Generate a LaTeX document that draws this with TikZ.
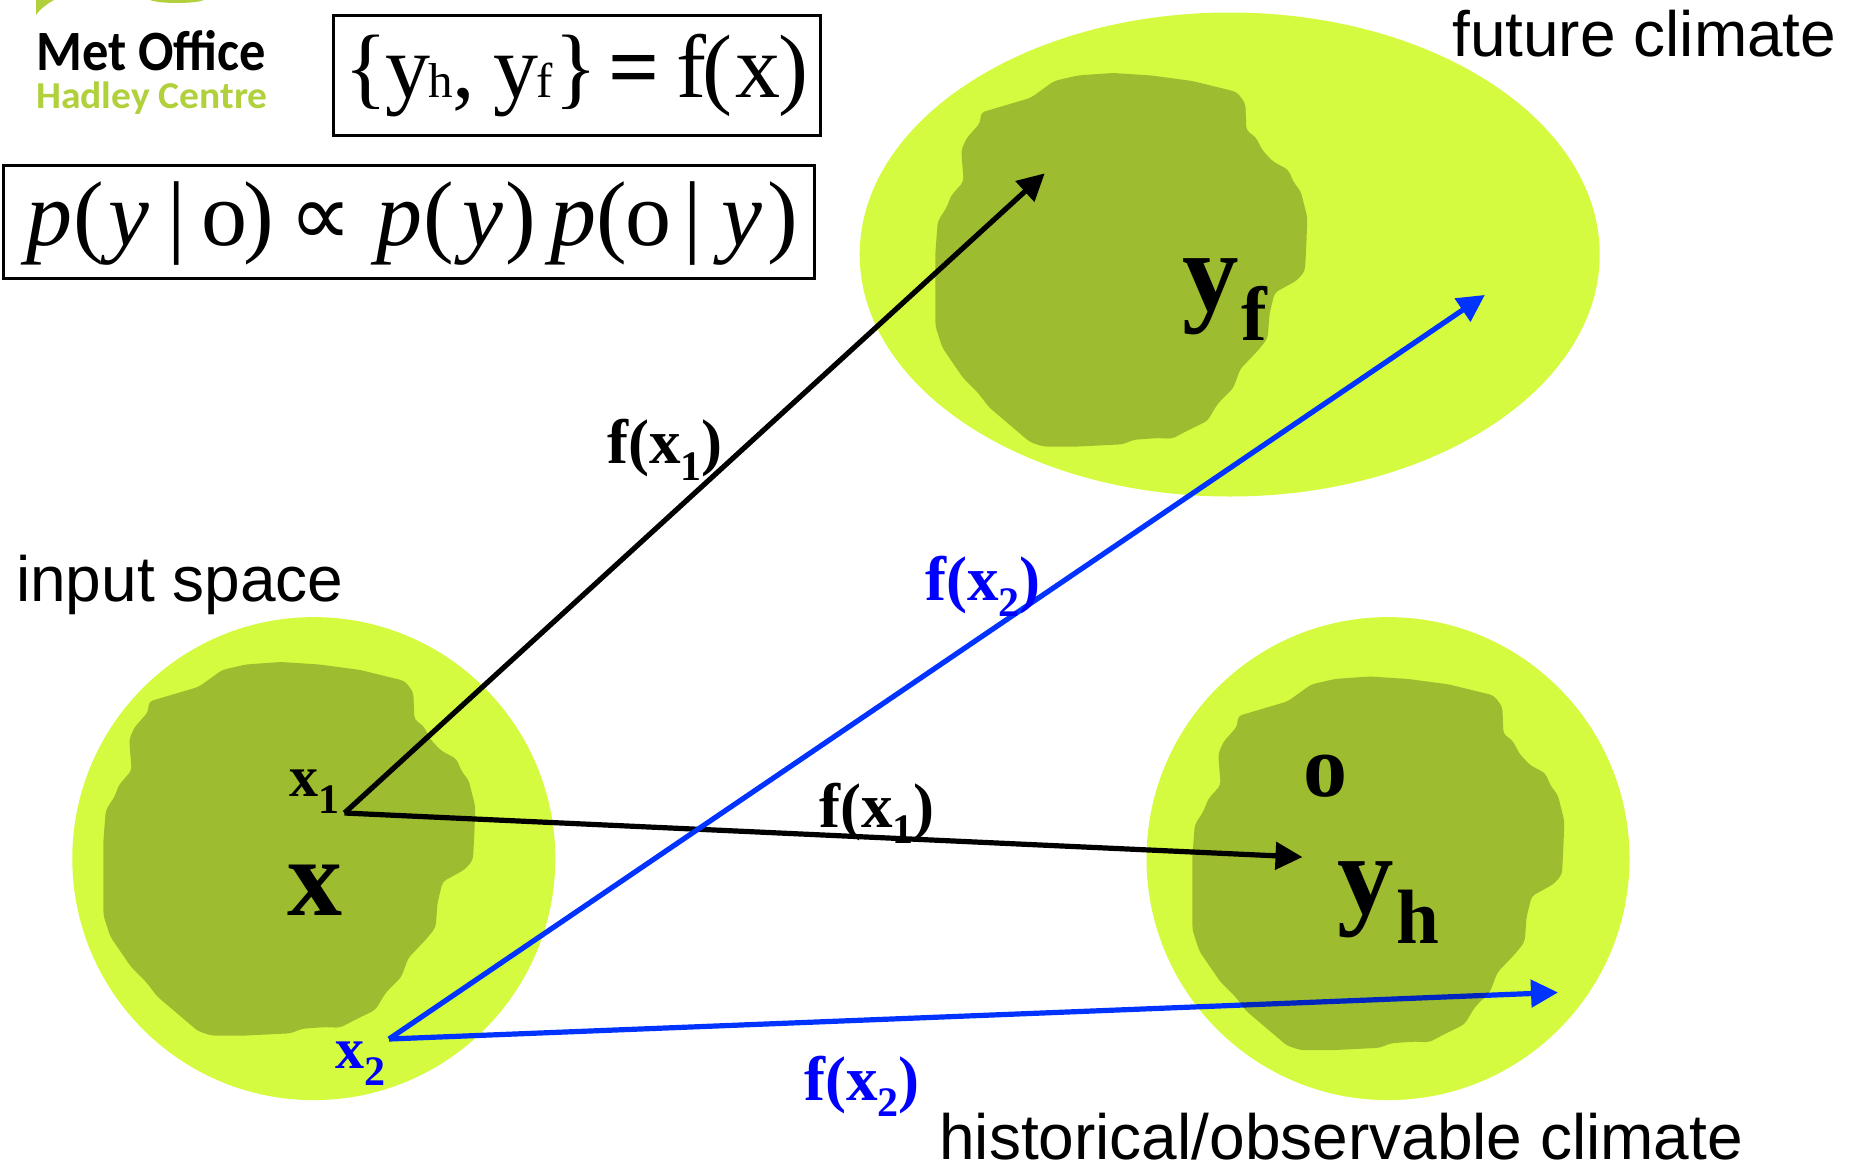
\documentclass[tikz,border=0pt]{standalone}
\usepackage{fontspec}
\usetikzlibrary{arrows.meta,positioning,calc}
\setmainfont{Liberation Serif}
\setsansfont{Liberation Sans}
\newfontfamily\logofont{Carlito}
\newfontfamily\symbfont{DejaVu Sans}
\definecolor{regionLime}{RGB}{212,251,64}
\definecolor{hadleyGreen}{RGB}{176,208,60}
\definecolor{lineBlue}{RGB}{0,51,255}
\definecolor{textBlue}{RGB}{0,0,255}
% sized label with a dropped index
\newcommand{\dropidx}[5]{\fontsize{#1}{#1}\selectfont #3\raisebox{-#5}{\fontsize{#2}{#2}\selectfont #4}}
\newcommand{\fval}[1]{\fontsize{63pt}{63pt}\selectfont f(x\raisebox{-16.5pt}{\fontsize{42pt}{42pt}\selectfont #1})}

\begin{document}
\begin{tikzpicture}[
  x=1pt, y=-1pt,
  region/.style={fill=regionLime, draw=none},
  blob/.style={fill=black, fill opacity=0.25, draw=none, rounded corners=4pt},
  maparrow/.style={line width=5.2pt, -{Triangle[length=27pt,width=27pt]}, shorten >=-1pt},
  capt/.style={font=\sffamily\fontsize{64pt}{64pt}\selectfont, anchor=base west, inner sep=0pt},
  lbl/.style={font=\bfseries, anchor=base west, inner sep=0pt},
  eqbox/.style={draw=black, line width=3pt, anchor=north west, inner sep=0pt, outer sep=0pt},
]
\useasboundingbox (0,0) rectangle (1859,1165);

\def\blobpath{(287,295) -- (432,252) -- (500,203) -- (570,187) -- (670,180) -- (780,187) -- (900,203)
  -- (1030,235) -- (1055,268) -- (1058,347) -- (1085,366) -- (1105,405) -- (1135,437) -- (1180,461)
  -- (1195,497) -- (1216,524) -- (1235,600) -- (1232,680) -- (1228,755) -- (1205,782) -- (1140,818)
  -- (1125,880) -- (1120,950) -- (1095,982) -- (1040,1040) -- (1020,1095) -- (975,1140) -- (945,1190)
  -- (880,1222) -- (842,1242) -- (800,1240) -- (730,1245) -- (700,1258) -- (560,1265) -- (470,1265)
  -- (430,1252) -- (310,1150) -- (280,1110) -- (235,1065) -- (175,977) -- (155,915) -- (155,700)
  -- (162,610) -- (188,570) -- (200,537) -- (237,495) -- (230,405) -- (245,370) -- (285,325) -- cycle}

% ---------- regions ----------
\fill[region] (313.8,858.6) circle (241.5);
\fill[region] (1388,858.6) circle (241.5);
\fill[region] (1229.7,254.5) ellipse (370 and 242);

% ---------- mappings ----------
\coordinate (xone) at (344.5,813);
\coordinate (xtwo) at (389,1039);
\coordinate (yfblack) at (1044,174);
\coordinate (yfblue) at (1484,295.5);
\coordinate (yhblack) at (1301.5,857);
\coordinate (yhblue) at (1557,992.5);
\draw[maparrow] (xone) -- (yfblack);
\draw[maparrow] (xone) -- (yhblack);
\draw[maparrow, lineBlue] (xtwo) -- (yfblue);
\draw[maparrow, lineBlue] (xtwo) -- (yhblue);

% ---------- likely parts ----------
\begin{scope}[shift={(50,600)}, x=0.3444pt, y=-0.3444pt]
  \fill[blob] \blobpath;
\end{scope}
\begin{scope}[shift={(1139,614.5)}, x=0.3444pt, y=-0.3444pt]
  \fill[blob] \blobpath;
\end{scope}
\begin{scope}[shift={(882,11)}, x=0.3444pt, y=-0.3444pt]
  \fill[blob] \blobpath;
\end{scope}

% ---------- symbols ----------
\node[lbl] (xbig) at (287,915) {\fontsize{110pt}{110pt}\selectfont x};
\node[lbl] (xonelbl) at (289,796) {\dropidx{58pt}{42pt}{x}{1}{17pt}};
\node[lbl, textBlue] (xtwolbl) at (335,1068) {\dropidx{58pt}{42pt}{x}{2}{17pt}};
\node[lbl] (yf) at (1182,310) {\dropidx{113pt}{77pt}{y\kern3pt}{f}{30pt}};
\node[lbl] (yh) at (1337,913) {\dropidx{113pt}{77pt}{y\kern3pt}{h}{30pt}};
\node[lbl] (obs) at (1303,796) {\fontsize{88pt}{88pt}\selectfont o};

\node[lbl] (fxonea) at (607,463.5) {\fval{1}};
\node[lbl, textBlue] (fxtwoa) at (925,600) {\fval{2}};
\node[lbl] (fxoneb) at (819,827) {\fval{1}};
\node[lbl, textBlue] (fxtwob) at (804,1100) {\fval{2}};

% ---------- captions ----------
\node[capt] (future) at (1452,56) {future climate};
\node[capt] (input) at (16,601) {input space};
\node[capt] (hist) at (939,1159) {historical/observable climate};

% ---------- equations ----------
\node[eqbox, minimum width=487pt, minimum height=120pt] (eqtop) at (333.5,15.5) {};
\node[anchor=base west, inner sep=0pt] (eqtoptxt) at (344,97)
  {\fontsize{90pt}{90pt}\selectfont\{\kern-2pt y\kern-2pt{\fontsize{49pt}{49pt}\selectfont h},\kern18pt y\kern-2pt{\fontsize{49pt}{49pt}\selectfont f}\kern2pt\}\kern11pt\textbf{=}\kern16pt f\kern-4pt(\kern3pt x\kern-2pt)};
\node[eqbox, minimum width=811pt, minimum height=113pt] (eqbot) at (3.5,165.5) {};
\node[anchor=base west, inner sep=0pt] (eqbottxt) at (26,245)
  {\fontsize{92pt}{92pt}\selectfont\textit{p}\kern1pt(\kern5pt\textit{y}\kern18pt|\kern15pt o\kern-4pt)\kern16pt{\symbfont\fontsize{88pt}{88pt}\selectfont ∝}\kern24pt\textit{p}\kern1pt(\kern8pt\textit{y}\kern2pt)\kern15pt\textit{p}(\kern-2pt o\kern12pt|\kern20pt\textit{y}\kern5pt)};

% ---------- logo ----------
\fill[hadleyGreen] (36,15) .. controls (40,9) and (47,4) .. (54,0) -- (36,0) -- cycle;
\fill[hadleyGreen] (150,0) .. controls (160,4) and (194,4) .. (204,0) -- cycle;
\node[anchor=base west, inner sep=0pt, font=\logofont\bfseries\fontsize{57pt}{57pt}\selectfont] (metoff) at (36,70) {\scalebox{0.92}[1]{Met Office}};
\node[anchor=base west, inner sep=0pt, text=hadleyGreen, font=\logofont\bfseries\fontsize{38pt}{38pt}\selectfont] (hadley) at (36,108) {\scalebox{1.04}[1]{Hadley Centre}};
\end{tikzpicture}
\end{document}
